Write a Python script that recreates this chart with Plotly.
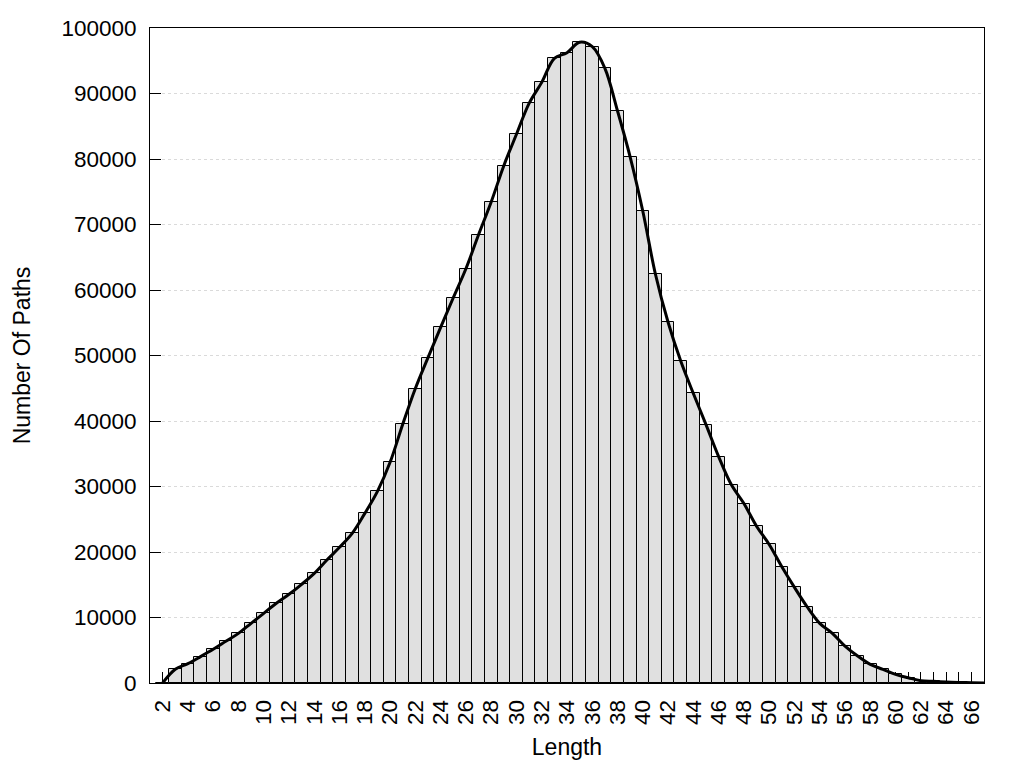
import plotly.graph_objects as go

# Path length categories
lengths = list(range(2, 68))

# Number of paths per length
paths = [
    0, 2090, 2950, 4020, 5140, 6360, 7580, 9110, 10640, 12170,
    13540, 15070, 16740, 18780, 20720, 22850, 25900, 29260, 33690, 39500,
    44960, 49670, 54290, 58820, 63240, 68430, 73440, 78980, 83770, 88500,
    91700, 95370, 96230, 97820, 97150, 93840, 87330, 80300, 72030, 62400,
    55070, 49160, 44200, 39450, 34570, 30300, 27400, 23940, 21150, 17740,
    14600, 11640, 9100, 7580, 5640, 4120, 2850, 2090, 1320, 810,
    350, 250, 150, 90, 50, 0,
]

# Axis ticks
x_tickvals = list(range(2, 67))
x_ticktext = [str(v) if v % 2 == 0 else "" for v in x_tickvals]
y_tickvals = [0, 10000, 20000, 30000, 40000, 50000, 60000, 70000, 80000, 90000, 100000]
y_ticktext = [str(v) for v in y_tickvals]

FONT = "Liberation Sans, Arial, sans-serif"

fig = go.Figure()
fig.add_trace(go.Bar(
    x=lengths, y=paths, width=1,
    marker=dict(color="#e0e0e0", line=dict(color="black", width=1)),
    showlegend=False, hoverinfo="x+y",
))
fig.add_trace(go.Scatter(
    x=lengths, y=paths, mode="lines",
    line=dict(color="black", width=3, shape="spline", smoothing=1.0),
    showlegend=False,
))

fig.update_layout(
    width=1024, height=768,
    margin=dict(l=142, r=48, t=20, b=93, autoexpand=False),
    paper_bgcolor="white", plot_bgcolor="white",
    bargap=0,
    font=dict(family=FONT, size=22, color="black"),
)
fig.update_xaxes(
    range=[1, 67],
    tickmode="array", tickvals=x_tickvals, ticktext=x_ticktext,
    tickangle=-90,
    ticks="inside", ticklen=11, tickcolor="black", tickwidth=1,
    ticklabelstandoff=7,
    showline=True, linecolor="black", linewidth=1, mirror=True,
    showgrid=False, zeroline=False,
    layer="below traces",
    title=dict(text="Length", font=dict(size=23), standoff=14),
    tickfont=dict(size=22.5),
)
fig.update_yaxes(
    range=[0, 100000],
    tickmode="array", tickvals=y_tickvals, ticktext=y_ticktext,
    ticks="inside", ticklen=11, tickcolor="black", tickwidth=1,
    ticklabelstandoff=8,
    showline=True, linecolor="black", linewidth=1, mirror=True,
    showgrid=True, gridcolor="#dadada", griddash="dot", gridwidth=1,
    zeroline=False,
    layer="below traces",
    title=dict(text="Number Of Paths", font=dict(size=23), standoff=24),
    tickfont=dict(size=22.5),
)

fig.write_html("out.html")
